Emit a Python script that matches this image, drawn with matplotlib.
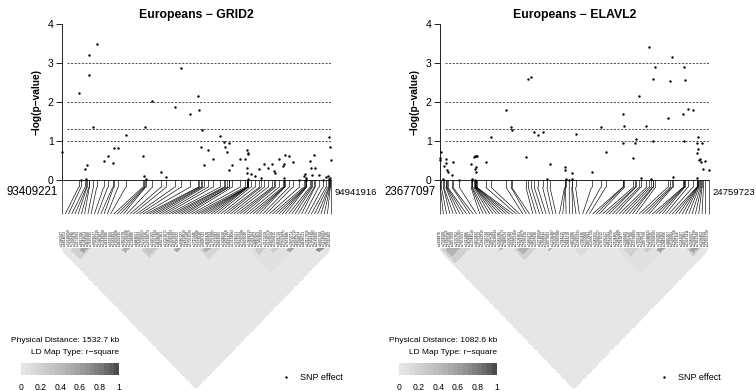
import numpy as np
import matplotlib
matplotlib.use("Agg")
import matplotlib.pyplot as plt
from matplotlib.collections import LineCollection
from matplotlib.colors import ListedColormap, BoundaryNorm
import matplotlib.transforms as mtrans

plt.rcParams['font.family'] = ['Liberation Sans', 'DejaVu Sans']

# ---------------- data ----------------
y_ticks = [0, 1, 2, 3, 4]
ref_lines = [1, 1.3, 2, 3]
cbar_ticks = [0, 0.2, 0.4, 0.6, 0.8, 1]
cbar_labels = ['0', '0.2', '0.4', '0.6', '0.8', '1']

g_title = "Europeans \u2212 GRID2"
g_start = 93409221
g_kb = [0, 95.3, 108.4, 131.2, 139.7, 142.6, 152.3, 155.7, 178.5, 197.9,
        237.9, 260.7, 289.2, 294.9, 319.4, 363.3, 460.3, 469.4, 473.4, 476.3,
        515.1, 564.7, 594.9, 642.8, 678.8, 730.1, 777.5, 783.2, 792.9, 798.6,
        810.0, 832.8, 859.6, 901.2, 924.0, 929.8, 939.5, 950.9, 952.6, 969.7,
        1015.3, 1043.8, 1055.2, 1057.0, 1058.1, 1059.2, 1061.0, 1063.8, 1076.3, 1100.9,
        1125.4, 1135.1, 1153.9, 1175.0, 1199.6, 1207.5, 1216.7, 1237.8, 1258.9, 1266.3,
        1267.4, 1270.3, 1294.8, 1315.9, 1353.6, 1378.7, 1387.8, 1390.1, 1391.8, 1394.6,
        1414.6, 1422.0, 1427.7, 1439.1, 1443.1, 1464.2, 1487.0, 1505.9, 1515.5, 1523.0,
        1524.7, 1528.7, 1530.4, 1532.695]
g_val = [0.73, 2.23, 0.00, 0.27, 0.02, 0.38, 3.20, 2.68, 1.37, 3.50,
         0.49, 0.62, 0.44, 0.83, 0.83, 1.15, 0.61, 0.09, 1.36, 0.02,
         2.03, 0.21, 0.08, 1.88, 2.86, 1.69, 2.16, 1.79, 0.85, 1.28,
         0.38, 0.77, 0.54, 1.14, 0.97, 0.85, 0.73, 0.95, 0.25, 0.38,
         0.55, 0.55, 0.77, 0.30, 0.17, 0.70, 0.66, 0.02, 0.16, 0.09,
         0.27, 0.06, 0.41, 0.30, 0.40, 0.24, 0.19, 0.55, 0.37, 0.04,
         0.41, 0.64, 0.61, 0.45, 0.00, 0.09, 0.15, 0.00, 0.04, 0.01,
         0.49, 0.32, 0.14, 0.64, 0.32, 0.14, 0.00, 0.07, 0.11, 0.02,
         1.09, 0.85, 0.04, 0.51]
g_rs = """rs1380347 rs6814653 rs10516659 rs7692345 rs1875870 rs2179391 rs6817106 rs1349621 rs4693560 rs7697395
rs9991627 rs17020139 rs1986367 rs13139290 rs4141386 rs6533102 rs1583493 rs10025006 rs4699335 rs2869378
rs17020390 rs11933025 rs1399806 rs6844651 rs2186693 rs17020651 rs7659316 rs10516673 rs1460155 rs12507434
rs4693648 rs6827361 rs17021071 rs2045214 rs10030283 rs1873839 rs7689122 rs4386127 rs12498810 rs6533148
rs17021523 rs2715346 rs10516686 rs1522640 rs9995741 rs4699428 rs7665094 rs17021907 rs2352083 rs6814905
rs1494830 rs11097568 rs4581427 rs13134683 rs7674021 rs2621591 rs17022288 rs6829040 rs10489313 rs1391764
rs4440952 rs7680453 rs17022603 rs2127419 rs11730174 rs6837624 rs1036815 rs4693712 rs9307524 rs17022977
rs7669386 rs2870071 rs10516712 rs6832251 rs1498917 rs4699521 rs13117035 rs7682319 rs17023382 rs2189456
rs6855704 rs11736011 rs4693796 rs1510482""".split()
# LD blocks: (first SNP index, last SNP index, r-square)
g_blocks = [(3, 9, 0.22), (6, 8, 0.55), (19, 21, 0.45), (25, 30, 0.22), (26, 29, 0.35),
            (35, 37, 0.50), (43, 49, 0.18), (44, 46, 0.45), (58, 72, 0.07), (60, 63, 0.25),
            (65, 67, 0.30), (70, 72, 0.55), (79, 81, 0.65)]

e_title = "Europeans \u2212 ELAVL2"
e_start = 23677097
e_kb = [0, 1.3, 5.4, 13.4, 14.8, 22.8, 25.5, 28.2, 30.9, 48.3,
        51.0, 77.8, 124.8, 127.5, 130.1, 135.5, 139.5, 140.9, 141.5, 143.6,
        144.9, 146.2, 147.6, 183.8, 205.3, 265.7, 285.8, 288.5, 346.2, 355.5,
        367.6, 379.7, 393.1, 413.2, 430.7, 442.8, 501.8, 504.5, 505.8, 520.6,
        531.3, 532.7, 546.1, 610.5, 648.0, 668.2, 736.6, 737.9, 743.3, 779.5,
        787.6, 790.2, 802.3, 809.0, 831.9, 841.2, 849.3, 857.3, 858.7, 868.1,
        917.7, 928.5, 933.8, 937.9, 980.8, 982.1, 983.5, 986.1, 998.2, 1019.7,
        1034.4, 1035.8, 1037.1, 1038.5, 1039.8, 1043.8, 1049.2, 1053.2, 1055.9, 1061.3,
        1069.3, 1082.626]
e_val = [0.56, 0.51, 0.71, 0.03, 0.37, 0.53, 0.43, 0.26, 0.21, 0.13,
         0.45, 0.00, 0.41, 0.00, 0.02, 0.60, 0.62, 0.27, 0.00, 0.62,
         0.21, 0.33, 0.62, 0.46, 1.10, 1.79, 1.36, 1.27, 0.58, 2.59,
         2.64, 1.24, 1.16, 1.23, 0.03, 0.40, 0.34, 0.25, 0.03, 0.00,
         0.17, 0.03, 1.19, 0.21, 1.36, 0.73, 1.68, 0.94, 1.38, 0.56,
         0.96, 1.04, 2.15, 0.05, 1.39, 3.42, 0.03, 0.99, 2.60, 2.91,
         1.58, 2.54, 3.15, 0.08, 1.69, 1.01, 2.91, 2.56, 1.82, 1.79,
         0.68, 0.96, 0.04, 1.11, 0.79, 0.50, 0.53, 0.46, 0.96, 0.27,
         0.48, 0.26]
e_rs = """rs2494876 rs7034208 rs10811521 rs1333040 rs4977420 rs2150762 rs10965301 rs7857031 rs1411486 rs3808907
rs12344519 rs4879852 rs2775312 rs10812015 rs7026734 rs1360743 rs4977549 rs13296043 rs2382196 rs10965673
rs7848524 rs1536189 rs4361072 rs12352160 rs2504301 rs10811870 rs7036418 rs1889372 rs4879960 rs2297630
rs10738550 rs7864812 rs1535037 rs4977603 rs12336487 rs2150810 rs10965982 rs7044215 rs1412774 rs3844219
rs4879996 rs2792057 rs10812331 rs7020436 rs1570068 rs4977681 rs13300722 rs2382355 rs10966227 rs7871012
rs1536317 rs4627281 rs12343709 rs2504465 rs10812490 rs7043877 rs1926843 rs4880110 rs2297782 rs10738802
rs7858124 rs1409671 rs4977799 rs12348821 rs2150935 rs10966501 rs7030392 rs1412963 rs3849306 rs4880167
rs2791981 rs10812756 rs7035116 rs1542007 rs4977862 rs13287411 rs2382507 rs10966735 rs7862249 rs1536452
rs4626954 rs12554720""".split()
e_blocks = [(1, 9, 0.22), (2, 6, 0.45), (18, 19, 0.40), (23, 29, 0.22), (24, 27, 0.45),
            (33, 34, 0.40), (41, 45, 0.15), (54, 68, 0.07), (56, 60, 0.22), (62, 64, 0.28),
            (66, 68, 0.60), (75, 79, 0.22), (76, 78, 0.55)]

base_r2 = 0.01

# ---------------- figure ----------------
W, H = 756, 391
fig = plt.figure(figsize=(W / 100, H / 100), dpi=100)


def ax_px(x0, y0, x1, y1):
    return fig.add_axes([x0 / W, 1 - y1 / H, (x1 - x0) / W, (y1 - y0) / H])


levels = np.linspace(0.3 ** 2.2, 0.9 ** 2.2, 20) ** (1 / 2.2)
cmap = ListedColormap([(g, g, g) for g in levels[::-1]])
norm = BoundaryNorm(np.linspace(0, 1, 21), 20)


def px_shift(dx, dy):
    return mtrans.ScaledTranslation(dx / 100, dy / 100, fig.dpi_scale_trans)


def draw_panel(dx, title, start, kb, vals, rs, blocks):
    pos = start + np.round(np.array(kb) * 1000)
    vals = np.array(vals)
    N = len(pos)
    x0, x1 = 62 + dx, 330.7 + dx

    # ---- association plot ----
    ax = ax_px(x0, 24, x1, 180)
    ax.set_xlim(pos[0], pos[-1])
    ax.set_ylim(0, 4)
    for s in ['top', 'right', 'bottom']:
        ax.spines[s].set_visible(False)
    ax.spines['left'].set_linewidth(0.6)
    ax.set_xticks([])
    ax.set_yticks(y_ticks)
    ax.set_yticklabels([str(t) for t in y_ticks])
    ax.tick_params(axis='y', labelsize=7.5, length=4, width=0.6, pad=2)
    for y in ref_lines:
        ax.axhline(y, xmin=0.02, xmax=1, color='#333333', lw=0.6, ls=(0, (2.5, 1.8)))
    ax.scatter(pos, vals, s=3, c='k', lw=0, clip_on=False, zorder=3, label='SNP effect')
    ax.patch.set_alpha(0)
    fig.text((x0 + x1) / 2 / W, 1 - 15 / H, title, ha='center', va='center',
             fontsize=8.8, fontweight='bold')
    fig.text((37 + dx) / W, 1 - 102 / H, "\u2212log(p\u2212value)", rotation=90,
             ha='center', va='center', fontsize=7.3, fontweight='bold')
    ax.legend(loc='center left', bbox_to_anchor=((282.4 + dx) / W, 1 - 377 / H),
              bbox_transform=fig.transFigure, frameon=False, fontsize=6.5,
              handlelength=0.8, handletextpad=1.2, borderpad=0, borderaxespad=0,
              markerscale=1.0)

    # ---- gene map connectors ----
    am = ax_px(x0, 180, x1, 214)
    am.set_xlim(0, 1)
    am.set_ylim(0, 1)
    am.axis('off')
    f = (pos - pos[0]) / (pos[-1] - pos[0])
    g = np.arange(N) / (N - 1)
    am.plot([0, 1], [1, 1], color='k', lw=0.6, clip_on=False)
    am.add_collection(LineCollection([[(fi, 1), (fi, 0.79)] for fi in f],
                                     colors='k', lw=0.45, clip_on=False))
    am.add_collection(LineCollection([[(fi, 0.79), (gi, 0)] for fi, gi in zip(f, g)],
                                     colors='k', lw=0.45, clip_on=False))
    am.text(0, 0.64, str(int(pos[0])), transform=am.transAxes + px_shift(-4, 0),
            ha='right', va='center', fontsize=8.3)
    am.text(1, 0.64, str(int(pos[-1])), transform=am.transAxes + px_shift(4, 0),
            ha='left', va='center', fontsize=6.8)

    # ---- LD heatmap ----
    M = np.full((N, N), base_r2)
    for a, b, r in blocks:
        M[a:b + 1, a:b + 1] = np.maximum(M[a:b + 1, a:b + 1], r)
    iu = np.triu(np.ones((N, N), bool), 1)
    C = np.ma.masked_where(~iu, M)
    A, B = np.meshgrid(np.arange(N + 1), np.arange(N + 1), indexing='ij')
    X = (A + B) / 2 - 0.5
    Y = -(B - A) / 2
    ah = ax_px(x0, 248, x1 - 0.7, 388)
    ah.pcolormesh(X, Y, C, cmap=cmap, norm=norm, edgecolors='face', linewidth=0.2)
    ah.set_xlim(0, N - 1)
    ah.set_ylim(-N / 2, 0)
    ah.axis('off')
    tr = mtrans.blended_transform_factory(ah.transData, ah.transAxes) + px_shift(0, 1.5)
    for k, name in enumerate(rs):
        ah.text(k, 1, name, transform=tr, rotation=90, ha='center', va='bottom',
                fontsize=2.4, color='#111111', clip_on=False)

    # ---- colour key ----
    ac = ax_px(21 + dx, 363, 119 + dx, 375)
    ac.imshow(np.linspace(0.025, 0.975, 20)[None, :], cmap=cmap, norm=norm,
              aspect='auto', extent=(0, 1, 0, 1))
    ac.set_xlim(0, 1)
    ac.set_ylim(0, 1)
    ac.axis('off')
    for t, lab in zip(cbar_ticks, cbar_labels):
        ac.text(t, -1.0, lab, ha='center', va='center', fontsize=6.2)
    dist = (pos[-1] - pos[0]) / 1000
    fig.text((119 + dx) / W, 1 - 341 / H, f"Physical Distance: {dist:.1f} kb",
             ha='right', va='center', fontsize=6.0)
    fig.text((119 + dx) / W, 1 - 353 / H, "LD Map Type: r\u2212square",
             ha='right', va='center', fontsize=6.0)


draw_panel(0, g_title, g_start, g_kb, g_val, g_rs, g_blocks)
draw_panel(378, e_title, e_start, e_kb, e_val, e_rs, e_blocks)

fig.savefig("out.png", dpi=100)
